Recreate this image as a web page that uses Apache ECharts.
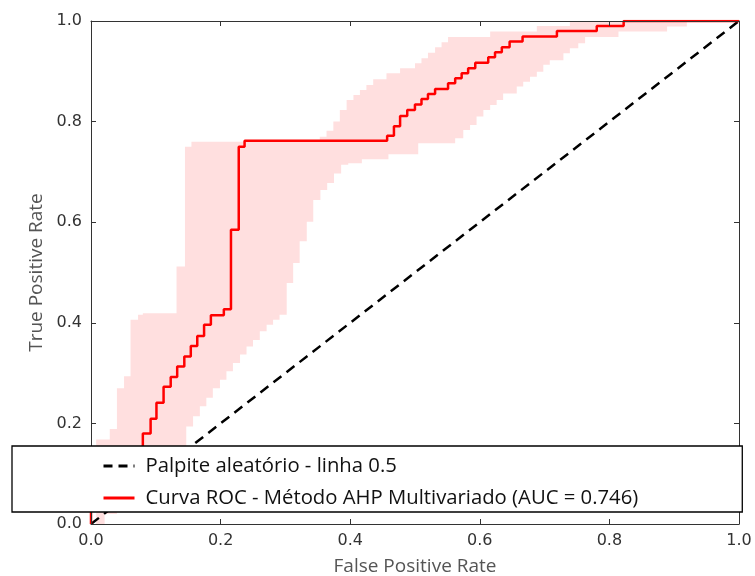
<!DOCTYPE html>
<html>
<head>
<meta charset="utf-8">
<script src="https://cdn.jsdelivr.net/npm/echarts@6/dist/echarts.min.js"></script>
<style>
  html, body { margin: 0; padding: 0; background: #fff; }
  #chart { width: 755px; height: 576px; }
</style>
</head>
<body>
<div id="chart"></div>
<script>
// ---- data ----
const axisTicks = [0.0, 0.2, 0.4, 0.6, 0.8, 1.0];
const seriesNames = ['Palpite aleatório - linha 0.5', 'Curva ROC - Método AHP Multivariado (AUC = 0.746)'];

// chance line
const chanceLine = [[0, 0], [1, 1]];

// mean ROC curve: [FPR where the step happens, new TPR]
const rocCurve = [
  [0, 0], [0, 0.04], [0.02, 0.06], [0.035, 0.08], [0.05, 0.10], [0.06, 0.125], [0.07, 0.15],
  [0.080, 0.180], [0.092, 0.209], [0.101, 0.241], [0.112, 0.273], [0.123, 0.292], [0.133, 0.313],
  [0.144, 0.333], [0.154, 0.354], [0.164, 0.374], [0.1745, 0.396], [0.185, 0.415], [0.205, 0.427],
  [0.216, 0.585], [0.228, 0.750], [0.237, 0.762],
  [0.457, 0.772], [0.4675, 0.791], [0.477, 0.811], [0.488, 0.823], [0.4999, 0.834], [0.510, 0.845],
  [0.520, 0.855], [0.531, 0.865], [0.551, 0.876], [0.562, 0.886], [0.572, 0.896], [0.582, 0.906],
  [0.593, 0.917], [0.613, 0.928], [0.6235, 0.938], [0.634, 0.948], [0.646, 0.959], [0.666, 0.969],
  [0.719, 0.980], [0.7805, 0.990], [0.822, 1.0], [1.0, 1.0]
];

// upper edge of the +/- 1 std band
const bandUpper = [
  [0, 0], [0.008, 0.168], [0.029, 0.189], [0.040, 0.270], [0.051, 0.2935], [0.061, 0.406],
  [0.0726, 0.416], [0.080, 0.419], [0.132, 0.512], [0.145, 0.750], [0.155, 0.760],
  [0.353, 0.770], [0.3635, 0.782], [0.374, 0.800], [0.384, 0.823], [0.3945, 0.843], [0.405, 0.853],
  [0.415, 0.863], [0.425, 0.873], [0.4355, 0.884], [0.456, 0.896], [0.477, 0.906], [0.500, 0.916],
  [0.510, 0.926], [0.520, 0.937], [0.531, 0.948], [0.541, 0.958], [0.551, 0.968], [0.616, 0.979],
  [0.688, 0.990], [0.739, 1.0], [1.0, 1.0]
];

// lower edge of the +/- 1 std band
const bandLower = [
  [0, 0], [0.021, 0.02], [0.04, 0.04], [0.06, 0.06], [0.08, 0.08], [0.10, 0.10], [0.12, 0.125],
  [0.135, 0.15], [0.147, 0.194], [0.1575, 0.214], [0.168, 0.234], [0.178, 0.251], [0.188, 0.270],
  [0.199, 0.287], [0.209, 0.3035], [0.219, 0.320], [0.230, 0.337], [0.240, 0.353], [0.250, 0.366],
  [0.2605, 0.383], [0.271, 0.396], [0.281, 0.406], [0.291, 0.416], [0.302, 0.479], [0.312, 0.519],
  [0.322, 0.562], [0.333, 0.601], [0.343, 0.644], [0.354, 0.664], [0.3645, 0.678], [0.375, 0.697],
  [0.386, 0.714], [0.397, 0.717], [0.418, 0.725], [0.459, 0.735], [0.505, 0.757], [0.562, 0.767],
  [0.5745, 0.7835], [0.585, 0.793], [0.595, 0.810], [0.6055, 0.823], [0.616, 0.833], [0.626, 0.843],
  [0.636, 0.856], [0.657, 0.870], [0.667, 0.879], [0.6775, 0.889], [0.688, 0.899], [0.698, 0.913],
  [0.708, 0.922], [0.729, 0.936], [0.739, 0.946], [0.752, 0.956], [0.7625, 0.968], [0.814, 0.979],
  [0.889, 0.989], [0.9195, 1.0], [1.0, 1.0]
];

// ---- helpers ----
function stepExpand(pts) {
  const out = [pts[0]];
  for (let i = 1; i < pts.length; i++) {
    out.push([pts[i][0], pts[i - 1][1]]);
    out.push(pts[i]);
  }
  return out;
}

const chart = echarts.init(document.getElementById('chart'), null, { renderer: 'canvas' });

const tickFont = { fontFamily: 'DejaVu Sans', fontSize: 16, color: '#333' };
const nameFont = { fontFamily: 'Open Sans', fontSize: 19, color: '#555' };
const lineCol = '#333';

function makeAxis(pos, showLabel, name, nameGap) {
  return {
    type: 'value', position: pos, min: axisTicks[0], max: axisTicks[axisTicks.length - 1], interval: 0.2,
    axisLine: { show: true, onZero: false, lineStyle: { color: lineCol, width: 1 } },
    axisTick: { show: true, inside: true, length: 5, lineStyle: { color: lineCol, width: 1 } },
    axisLabel: Object.assign({ show: showLabel, margin: 9, formatter: v => v.toFixed(1) }, tickFont),
    splitLine: { show: false },
    name: name || '', nameLocation: 'middle', nameGap: nameGap || 0, nameTextStyle: nameFont,
    z: 3
  };
}

const option = {
  animation: false,
  backgroundColor: '#fff',
  grid: { left: 91, right: 16, top: 21, bottom: 52, containLabel: false, outerBoundsMode: 'none' },
  xAxis: [makeAxis('bottom', true, 'False Positive Rate', 33), makeAxis('top', false)],
  yAxis: [makeAxis('left', true, 'True Positive Rate', 33), makeAxis('right', false)],
  legend: {
    z: 10,
    data: [
      { name: seriesNames[0], itemStyle: { opacity: 0 }, lineStyle: { color: '#000', width: 3, type: [9, 6] } },
      { name: seriesNames[1], itemStyle: { opacity: 0 }, lineStyle: { color: '#ff0000', width: 3, type: 'solid' } }
    ],
    orient: 'vertical', left: 12, top: 446,
    padding: [10, 104, 4, 90],
    itemWidth: 31, itemHeight: 14, itemGap: 12,
    backgroundColor: '#fff', borderColor: '#000', borderWidth: 1.3, borderRadius: 0,
    textStyle: { fontFamily: 'Open Sans', fontSize: 20.3, color: '#111', padding: [0, 0, 0, 6] },
    selectedMode: false
  },
  series: [
    {
      type: 'custom', name: 'band', z: 1, silent: true,
      data: [[0, 0]],
      renderItem: function (params, api) {
        const up = stepExpand(bandUpper);
        const lo = stepExpand(bandLower).reverse();
        const pts = up.concat(lo).map(p => api.coord(p));
        return { type: 'polygon', shape: { points: pts }, style: { fill: '#ffdfdf', stroke: null } };
      }
    },
    {
      type: 'line', name: seriesNames[0], data: chanceLine, symbol: 'none', z: 2,
      lineStyle: { color: '#000', width: 2.5, type: [10, 6.5] }, itemStyle: { color: '#000' }
    },
    {
      type: 'line', name: seriesNames[1], data: rocCurve, step: 'end', symbol: 'none', z: 2,
      lineStyle: { color: '#ff0000', width: 2.5 }, itemStyle: { color: '#ff0000' }
    }
  ]
};
chart.setOption(option);
</script>
</body>
</html>
